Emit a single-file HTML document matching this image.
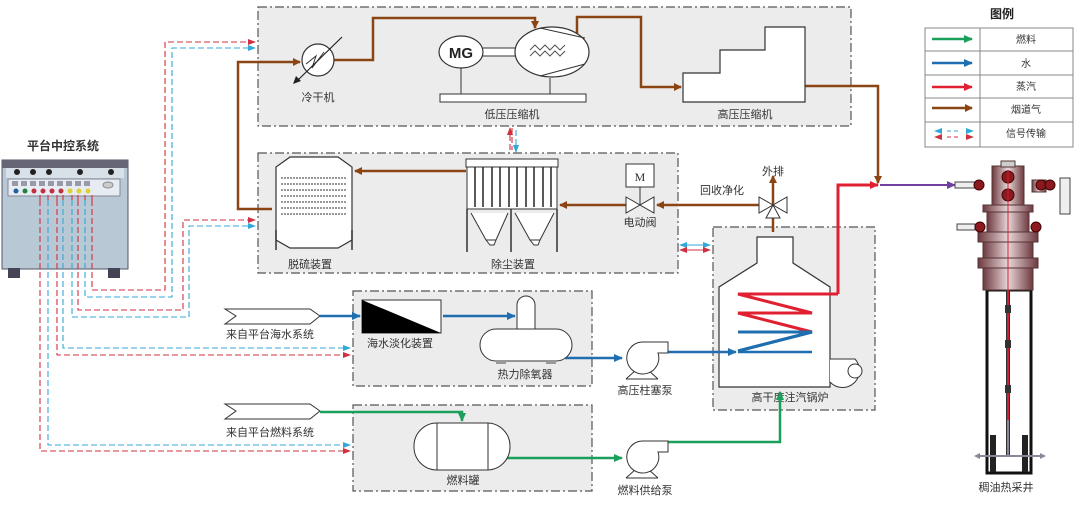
<!DOCTYPE html>
<html><head><meta charset="utf-8"><style>
html,body{margin:0;padding:0;background:#fff;}
svg{display:block;font-family:"Liberation Sans","Noto Sans CJK SC",sans-serif;}
</style></head><body>
<svg width="1080" height="509" viewBox="0 0 1080 509" xmlns="http://www.w3.org/2000/svg">
<defs>
<marker id="ab" markerWidth="8" markerHeight="8" refX="7" refY="4" orient="auto" markerUnits="userSpaceOnUse"><path d="M0,0 L8,4 L0,8 Z" fill="#8B4513"/></marker>
<marker id="abl" markerWidth="9" markerHeight="8" refX="8" refY="4" orient="auto" markerUnits="userSpaceOnUse"><path d="M0,0 L9,4 L0,8 Z" fill="#1f6fb0"/></marker>
<marker id="ag" markerWidth="9" markerHeight="8" refX="8" refY="4" orient="auto" markerUnits="userSpaceOnUse"><path d="M0,0 L9,4 L0,8 Z" fill="#1aa05a"/></marker>
<marker id="ar" markerWidth="9" markerHeight="8" refX="8" refY="4" orient="auto" markerUnits="userSpaceOnUse"><path d="M0,0 L9,4 L0,8 Z" fill="#e02030"/></marker>
<marker id="ap" markerWidth="9" markerHeight="8" refX="8" refY="4" orient="auto" markerUnits="userSpaceOnUse"><path d="M0,0 L9,4 L0,8 Z" fill="#7040a0"/></marker>
<marker id="sr" markerWidth="8" markerHeight="6" refX="7" refY="3" orient="auto" markerUnits="userSpaceOnUse"><path d="M0,0 L8,3 L0,6 Z" fill="#d03040"/></marker>
<marker id="sc" markerWidth="8" markerHeight="6" refX="7" refY="3" orient="auto" markerUnits="userSpaceOnUse"><path d="M0,0 L8,3 L0,6 Z" fill="#30a8d8"/></marker>
<linearGradient id="pg" x1="0" x2="1"><stop offset="0" stop-color="#6d3a40"/><stop offset="0.5" stop-color="#e8d6d8"/><stop offset="1" stop-color="#6d3a40"/></linearGradient>
</defs>

<!-- boxes -->
<g fill="#ececec" stroke="#555" stroke-width="1.2" stroke-dasharray="9,3,2,3">
<rect x="258" y="7" width="593" height="119"/>
<rect x="258" y="153" width="420" height="120"/>
<rect x="353" y="291" width="239" height="95"/>
<rect x="353" y="405" width="239" height="86"/>
<rect x="713" y="227" width="162" height="183"/>
</g>

<!-- control panel -->
<text x="63" y="150" font-size="12" font-weight="bold" text-anchor="middle" fill="#333">平台中控系统</text>
<rect x="2" y="160" width="126" height="109" fill="#b8c8d4" stroke="#556" stroke-width="1"/>
<rect x="2" y="160" width="126" height="8" fill="#667"/>
<rect x="6" y="168" width="118" height="10" fill="#d8e0e8"/>
<g fill="#222"><circle cx="17" cy="172" r="3"/><circle cx="33" cy="172" r="3"/><circle cx="49" cy="172" r="3"/><circle cx="80" cy="172" r="3"/><circle cx="111" cy="172" r="3"/></g>
<rect x="8" y="179" width="112" height="17" fill="#e6ecf2" stroke="#889"/>
<g fill="#99a" ><rect x="12" y="181" width="6" height="5"/><rect x="21" y="181" width="6" height="5"/><rect x="30" y="181" width="6" height="5"/><rect x="39" y="181" width="6" height="5"/><rect x="48" y="181" width="6" height="5"/><rect x="57" y="181" width="6" height="5"/><rect x="66" y="181" width="6" height="5"/><rect x="75" y="181" width="6" height="5"/><rect x="84" y="181" width="6" height="5"/></g>
<g><circle cx="16" cy="191" r="2.5" fill="#2060a0"/><circle cx="25" cy="191" r="2.5" fill="#208040"/><circle cx="34" cy="191" r="2.5" fill="#c03040"/><circle cx="43" cy="191" r="2.5" fill="#c03040"/><circle cx="52" cy="191" r="2.5" fill="#c03040"/><circle cx="61" cy="191" r="2.5" fill="#c03040"/><circle cx="70" cy="191" r="2.5" fill="#e0d030"/><circle cx="79" cy="191" r="2.5" fill="#e0d030"/><circle cx="88" cy="191" r="2.5" fill="#e0d030"/></g>
<ellipse cx="108" cy="185" rx="5" ry="3" fill="#ccc" stroke="#888"/>
<rect x="8" y="268" width="12" height="10" fill="#445"/><rect x="108" y="268" width="12" height="10" fill="#445"/>

<!-- signal lines -->
<g fill="none" stroke-width="1.1" stroke-dasharray="6,3">
<path d="M92,200 V290 H165 V42 H255" stroke="#d03040" marker-end="url(#sr)"/>
<path d="M85,200 V297 H172 V48 H255" stroke="#30a8d8" marker-end="url(#sc)"/>
<path d="M78,200 V310 H183 V220 H255" stroke="#d03040" marker-end="url(#sr)"/>
<path d="M72,200 V317 H189 V226 H255" stroke="#30a8d8" marker-end="url(#sc)"/>
<path d="M63,200 V348 H350" stroke="#30a8d8" marker-end="url(#sc)"/>
<path d="M57,200 V355 H350" stroke="#d03040" marker-end="url(#sr)"/>
<path d="M48,200 V445 H350" stroke="#30a8d8" marker-end="url(#sc)"/>
<path d="M40,200 V451 H350" stroke="#d03040" marker-end="url(#sr)"/>
<path d="M40,195 V200 M48,195 V200 M57,195 V200 M63,195 V200 M72,195 V200 M78,195 V200 M85,195 V200 M92,195 V200" stroke="#d03040"/>
<path d="M510,150 V128" stroke="#d03040" marker-end="url(#sr)"/>
<path d="M516,130 V152" stroke="#30a8d8" marker-end="url(#sc)"/>
<path d="M512,128 V150" stroke="#d03040"/>
<path d="M700,245 H680" stroke="#30a8d8" marker-end="url(#sc)"/>
<path d="M682,245 H710" stroke="#30a8d8" marker-end="url(#sc)"/>
<path d="M682,250 H710" stroke="#d03040" marker-end="url(#sr)"/>
<path d="M700,250 H680" stroke="#d03040" marker-end="url(#sr)"/>
</g>

<!-- flue gas lines -->
<g fill="none" stroke="#8B4513" stroke-width="2.5">
<path d="M272,209 H238 V62 H300" marker-end="url(#ab)"/>
<path d="M334,60 H373 V18 H535 V28" marker-end="url(#ab)"/>
<path d="M577,42 V17 H641 V87 H681" marker-end="url(#ab)"/>
<path d="M805,86 H878 V183" marker-end="url(#ab)"/>
<path d="M466,171 H355" marker-end="url(#ab)"/>
<path d="M628,205 H560" marker-end="url(#ab)"/>
<path d="M766,205 H657" marker-end="url(#ab)"/>
<path d="M773,232 V176" marker-end="url(#ab)"/>
</g>

<!-- cooler -->
<circle cx="318" cy="60" r="16" fill="#fff" stroke="#333" stroke-width="1.2"/>
<path d="M306,64 L316,56 L312,68 L324,52" fill="none" stroke="#333"/>
<line x1="342" y1="37" x2="298" y2="80" stroke="#222" stroke-width="1.2"/>
<path d="M293,84 L296,76 L301,81 Z" fill="#222"/>
<text x="318" y="101" font-size="11" text-anchor="middle" fill="#333">冷干机</text>

<!-- low pressure compressor -->
<rect x="440" y="94" width="146" height="8" fill="#fff" stroke="#333"/>
<line x1="461" y1="68" x2="461" y2="94" stroke="#333"/><line x1="550" y1="78" x2="550" y2="94" stroke="#333"/>
<rect x="482" y="48" width="34" height="8" fill="#fff" stroke="#333"/>
<ellipse cx="461" cy="52" rx="22" ry="16" fill="#fff" stroke="#333" stroke-width="1.2"/>
<text x="461" y="58" font-size="15" font-weight="bold" text-anchor="middle" fill="#222">MG</text>
<ellipse cx="552" cy="52" rx="37" ry="25" fill="#fff" stroke="#333" stroke-width="1.2"/>
<path d="M540,28 L585,38 M540,76 L585,64" stroke="#333"/>
<path d="M530,50 l5,-5 5,5 5,-5 5,5 5,-5 5,5 5,-5 M530,56 l5,-5 5,5 5,-5 5,5 5,-5 5,5 5,-5" fill="none" stroke="#555"/>
<text x="512" y="118" font-size="11" text-anchor="middle" fill="#333">低压压缩机</text>

<!-- high pressure compressor -->
<path d="M683,102 V73 H720 V50 H765 V27 H805 V102 Z" fill="#fff" stroke="#333" stroke-width="1.2"/>
<text x="745" y="118" font-size="11" text-anchor="middle" fill="#333">高压压缩机</text>

<!-- desulfurization -->
<path d="M276,240 V167 L290,157 H338 L352,167 V240 L338,248 H290 Z" fill="#fff" stroke="#333" stroke-width="1.2"/>
<g stroke="#333" stroke-dasharray="2,1">
<line x1="281" y1="178" x2="346" y2="178"/><line x1="281" y1="184" x2="346" y2="184"/><line x1="281" y1="190" x2="346" y2="190"/><line x1="281" y1="196" x2="346" y2="196"/><line x1="281" y1="202" x2="346" y2="202"/><line x1="281" y1="208" x2="346" y2="208"/><line x1="281" y1="214" x2="346" y2="214"/>
</g>
<path d="M276,230 V250 M352,230 V250" stroke="#333" stroke-width="1.5"/>
<text x="310" y="268" font-size="11" text-anchor="middle" fill="#333">脱硫装置</text>

<!-- dust collector -->
<rect x="466" y="159" width="92" height="8" fill="#fff" stroke="#333"/>
<rect x="467" y="167" width="90" height="42" fill="#fff" stroke="#333"/>
<g stroke="#222" stroke-width="1.5"><line x1="475" y1="167" x2="475" y2="207"/><line x1="483" y1="167" x2="483" y2="207"/><line x1="492" y1="167" x2="492" y2="207"/><line x1="500" y1="167" x2="500" y2="207"/><line x1="509" y1="167" x2="509" y2="207"/><line x1="517" y1="167" x2="517" y2="207"/><line x1="526" y1="167" x2="526" y2="207"/><line x1="534" y1="167" x2="534" y2="207"/><line x1="543" y1="167" x2="543" y2="207"/><line x1="551" y1="167" x2="551" y2="207"/></g>
<path d="M467,209 V252 M511,209 V252 M557,209 V252" stroke="#333" stroke-width="1.5"/>
<path d="M471,213 L486,240 H496 L508,213 M515,213 L530,240 H540 L554,213 M486,240 L490,245 H494 L496,240 M530,240 L534,245 H538 L540,240" fill="#fff" stroke="#333"/>
<text x="513" y="268" font-size="11" text-anchor="middle" fill="#333">除尘装置</text>

<!-- motor valve -->
<rect x="626" y="164" width="28" height="23" fill="#fff" stroke="#333"/>
<text x="640" y="181" font-size="12" font-family="Liberation Serif" text-anchor="middle" fill="#333">M</text>
<line x1="640" y1="187" x2="640" y2="205" stroke="#333"/>
<path d="M626,197 L654,213 V197 L626,213 Z" fill="#fff" stroke="#333"/>
<text x="640" y="226" font-size="11" text-anchor="middle" fill="#333">电动阀</text>
<text x="722" y="194" font-size="11" text-anchor="middle" fill="#333">回收净化</text>
<!-- 3-way valve -->
<path d="M759,197 L787,213 V197 L759,213 Z" fill="#fff" stroke="#333"/>
<path d="M773,205 L766,218 H780 Z" fill="#fff" stroke="#333"/>
<text x="773" y="175" font-size="11" text-anchor="middle" fill="#333">外排</text>

<!-- boiler -->
<path d="M757,237 V263 L719,287 V387 H830 V287 L793,263 V237 Z" fill="#fff" stroke="#333" stroke-width="1.2"/>
<path d="M830,359 H855 A16,16 0 1 1 830,382" fill="#fff" stroke="#333"/>
<circle cx="855" cy="371" r="7" fill="#fff" stroke="#333"/>
<g fill="none" stroke-width="3">
<path d="M838,294 H738 L812,313 H738 L812,332" stroke="#e02030"/>
<path d="M738,332 H812 L738,351" stroke="#1f6fb0" />
<path d="M738,332 H812 L738,351" stroke="#1f6fb0"/>
<path d="M838,294 V185 H878" stroke="#e02030" marker-end="url(#ar)"/>
</g>
<line x1="880" y1="185" x2="955" y2="185" stroke="#7040a0" stroke-width="2" marker-end="url(#ap)"/>
<text x="790" y="401" font-size="11" text-anchor="middle" fill="#333">高干度注汽锅炉</text>

<!-- seawater -->
<path d="M225,309 H310 L320,316 L310,324 H225 L236,316 Z" fill="#fff" stroke="#333"/>
<text x="270" y="338" font-size="11" text-anchor="middle" fill="#333">来自平台海水系统</text>
<g fill="none" stroke="#1f6fb0" stroke-width="2.5">
<path d="M320,316 H360" marker-end="url(#abl)"/>
<path d="M443,316 H515" marker-end="url(#abl)"/>
<path d="M565,358 H622" marker-end="url(#abl)"/>
<path d="M668,352 H736" marker-end="url(#abl)"/>
<path d="M738,352 H812"/>
</g>
<rect x="362" y="300" width="79" height="33" fill="#fff" stroke="#333"/>
<path d="M362,300 L441,333 H362 Z" fill="#000"/>
<text x="400" y="347" font-size="11" text-anchor="middle" fill="#333">海水淡化装置</text>
<path d="M517,330 V305 A9,9 0 0 1 535,305 V330" fill="#fff" stroke="#333"/>
<rect x="480" y="329" width="92" height="32" rx="16" fill="#fff" stroke="#333"/>
<rect x="496" y="361" width="10" height="3" fill="#999"/><rect x="546" y="361" width="10" height="3" fill="#999"/>
<text x="525" y="378" font-size="11" text-anchor="middle" fill="#333">热力除氧器</text>
<!-- pump1 -->
<path d="M626,379 L636,370 M658,379 L648,370 M626,379 H658" stroke="#333" fill="none"/>
<path d="M642,342 H668 V353 H658 A16,16 0 1 1 642,342 Z" fill="#fff" stroke="#333"/>
<text x="645" y="394" font-size="11" text-anchor="middle" fill="#333">高压柱塞泵</text>

<!-- fuel -->
<path d="M225,404 H310 L320,411 L310,419 H225 L236,411 Z" fill="#fff" stroke="#333"/>
<text x="270" y="436" font-size="11" text-anchor="middle" fill="#333">来自平台燃料系统</text>
<g fill="none" stroke="#1aa05a" stroke-width="2.5">
<path d="M320,412 H462 V421" marker-end="url(#ag)"/>
<path d="M506,458 H622" marker-end="url(#ag)"/>
<path d="M668,442 H780 V392" marker-end="url(#ag)"/>
</g>
<rect x="414" y="423" width="96" height="47" rx="23" fill="#fff" stroke="#333"/>
<line x1="437" y1="423" x2="437" y2="470" stroke="#333"/><line x1="488" y1="423" x2="488" y2="470" stroke="#333"/>
<text x="463" y="484" font-size="11" text-anchor="middle" fill="#333">燃料罐</text>
<path d="M626,478 L636,469 M658,478 L648,469 M626,478 H658" stroke="#333" fill="none"/>
<path d="M642,441 H668 V452 H658 A16,16 0 1 1 642,441 Z" fill="#fff" stroke="#333"/>
<text x="645" y="494" font-size="11" text-anchor="middle" fill="#333">燃料供给泵</text>

<!-- legend -->
<text x="1002" y="18" font-size="12" font-weight="bold" text-anchor="middle" fill="#222">图例</text>
<g stroke="#888" fill="none"><rect x="925" y="28" width="148" height="119"/><line x1="980" y1="28" x2="980" y2="147"/>
<line x1="925" y1="51" x2="1073" y2="51"/><line x1="925" y1="75" x2="1073" y2="75"/><line x1="925" y1="98" x2="1073" y2="98"/><line x1="925" y1="122" x2="1073" y2="122"/></g>
<line x1="932" y1="39" x2="972" y2="39" stroke="#1aa05a" stroke-width="2.5" marker-end="url(#ag)"/>
<line x1="932" y1="63" x2="972" y2="63" stroke="#1f6fb0" stroke-width="2.5" marker-end="url(#abl)"/>
<line x1="932" y1="87" x2="972" y2="87" stroke="#e02030" stroke-width="2.5" marker-end="url(#ar)"/>
<line x1="932" y1="108" x2="972" y2="108" stroke="#8B4513" stroke-width="2.5" marker-end="url(#ab)"/>
<path d="M934,130 l8,-3 v6 z M966,130 l8,-3... " fill="none"/>
<path d="M934,131 l8,-3 v6 z M974,131 l-8,-3 v6 z" fill="#30a8d8"/>
<path d="M934,137 l8,-3 v6 z M974,137 l-8,-3 v6 z" fill="#d03040"/>
<line x1="947" y1="131" x2="961" y2="131" stroke="#30a8d8" stroke-dasharray="4,3"/>
<line x1="947" y1="137" x2="961" y2="137" stroke="#d03040" stroke-dasharray="4,3"/>
<g font-size="10" text-anchor="middle" fill="#333">
<text x="1026" y="43">燃料</text><text x="1026" y="67">水</text><text x="1026" y="90">蒸汽</text><text x="1026" y="113">烟道气</text><text x="1026" y="137">信号传输</text></g>

<!-- well -->
<rect x="987" y="290" width="44" height="183" fill="#fff" stroke="#111" stroke-width="3"/>
<rect x="990" y="435" width="6" height="37" fill="#222"/><rect x="1022" y="435" width="6" height="37" fill="#222"/>
<line x1="1008" y1="290" x2="1008" y2="455" stroke="#333" stroke-width="4"/>
<line x1="1008" y1="290" x2="1008" y2="420" stroke="#d02030" stroke-width="2"/>
<line x1="1008" y1="420" x2="1008" y2="455" stroke="#889" stroke-width="2"/>
<g fill="#333"><rect x="1005" y="305" width="6" height="8"/><rect x="1005" y="340" width="6" height="8"/><rect x="1005" y="385" width="6" height="8"/></g>
<line x1="976" y1="456" x2="1044" y2="456" stroke="#889" stroke-width="2"/>
<path d="M974,456 l6,-3 v6 z M1046,456 l-6,-3 v6 z" fill="#889"/>
<rect x="983" y="268" width="50" height="22" fill="url(#pg)" stroke="#533"/>
<rect x="978" y="258" width="60" height="10" fill="url(#pg)" stroke="#533"/>
<rect x="983" y="242" width="50" height="16" fill="url(#pg)" stroke="#533"/>
<rect x="978" y="232" width="60" height="10" fill="url(#pg)" stroke="#533"/>
<rect x="987" y="212" width="42" height="20" fill="url(#pg)" stroke="#533"/>
<rect x="983" y="205" width="50" height="7" fill="url(#pg)" stroke="#533"/>
<rect x="992" y="166" width="32" height="39" fill="url(#pg)" stroke="#533"/>
<rect x="1001" y="161" width="14" height="6" fill="#ccc" stroke="#533"/>
<rect x="957" y="224" width="18" height="6" fill="#eee" stroke="#444"/>
<rect x="1032" y="180" width="14" height="12" fill="url(#pg)" stroke="#533"/>
<rect x="1060" y="178" width="10" height="36" fill="#eee" stroke="#444"/>
<rect x="955" y="182" width="20" height="6" fill="#eee" stroke="#444"/>
<g fill="#8a1a20" stroke="#400"><circle cx="1008" cy="177" r="6"/><circle cx="1008" cy="195" r="6"/><circle cx="979" cy="185" r="5"/><circle cx="1041" cy="185" r="5"/><circle cx="1050" cy="185" r="5"/><circle cx="980" cy="227" r="5"/><circle cx="1036" cy="227" r="5"/></g>
<line x1="1008" y1="170" x2="1008" y2="290" stroke="#d02030" stroke-width="1"/>
<text x="1006" y="491" font-size="11" text-anchor="middle" fill="#333">稠油热采井</text>
</svg>
</body></html>
